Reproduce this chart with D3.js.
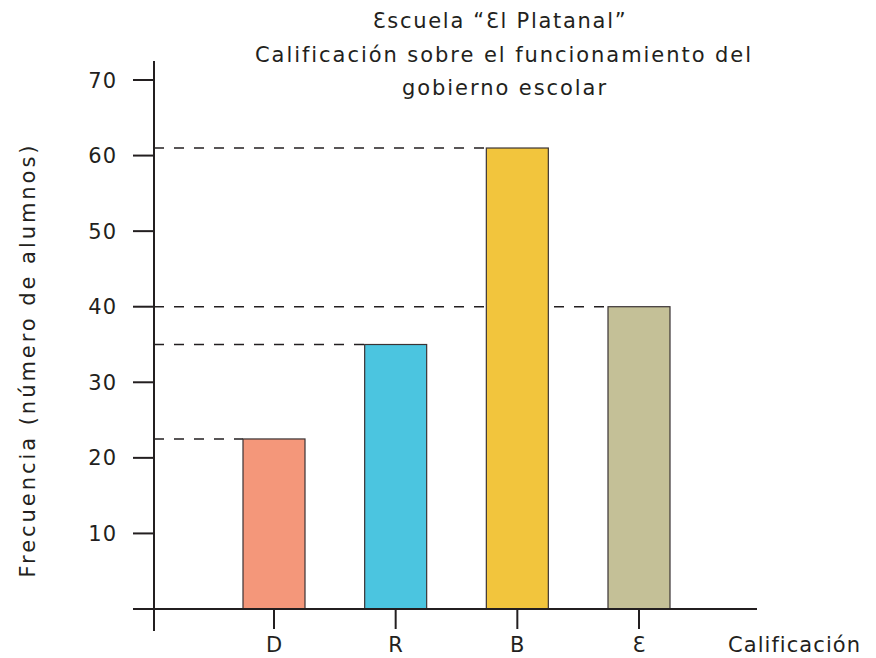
<!DOCTYPE html>
<html><head><meta charset="utf-8">
<script src="https://cdn.jsdelivr.net/npm/d3@7/dist/d3.min.js"></script>
<style>
body{margin:0;background:#fff;}
text{font-family:"DejaVu Sans","Open Sans",sans-serif;fill:#231f20;}
</style></head>
<body><svg id="c" width="876" height="658"></svg>
<script>
const categories = ["D","R","B","Ɛ"];
const values = [22.5, 35, 61, 40];
const colors = ["#F4977A","#4BC5E0","#F2C53D","#C4C097"];
const yTicks = [10,20,30,40,50,60,70];
const titleLines = ["Ɛscuela “Ɛl Platanal”","Calificación sobre el funcionamiento del","gobierno escolar"];
const yLabel = "Frecuencia (número de alumnos)";
const xLabel = "Calificación";

const svg = d3.select("#c");
const y = d3.scaleLinear().domain([0,70]).range([609,80]);
const x = d3.scalePoint().domain(categories).range([274,639]);
const barW = 62;
const axisX = 154;
const ink = "#231f20";

function fit(sel, w){
  sel.each(function(){
    const len = this.getComputedTextLength();
    const n = this.textContent.length;
    if(n>1) d3.select(this).attr("letter-spacing", (w-len)/(n-1));
  });
}

// dashed reference lines
svg.append("g").selectAll("line").data(values).join("line")
  .attr("x1", axisX).attr("x2", (d,i)=>x(categories[i]) - barW/2)
  .attr("y1", d=>y(d)).attr("y2", d=>y(d))
  .attr("stroke", ink).attr("stroke-width",1.6).attr("stroke-dasharray","10,10");

// bars
svg.append("g").selectAll("rect").data(values).join("rect")
  .attr("x",(d,i)=>x(categories[i]) - barW/2)
  .attr("width", barW)
  .attr("y", d=>y(d)).attr("height", d=>y(0)-y(d))
  .attr("fill",(d,i)=>colors[i]).attr("stroke","#3a3334").attr("stroke-width",1.2);

// y axis
const ya = svg.append("g");
ya.append("line").attr("x1",axisX).attr("x2",axisX).attr("y1",61).attr("y2",631)
  .attr("stroke",ink).attr("stroke-width",2);
ya.selectAll("line.t").data(yTicks).join("line").attr("class","t")
  .attr("x1",133).attr("x2",axisX).attr("y1",d=>y(d)).attr("y2",d=>y(d))
  .attr("stroke",ink).attr("stroke-width",2);
ya.selectAll("text").data(yTicks).join("text")
  .attr("x",117).attr("y",d=>y(d)).attr("dy","0.36em").attr("text-anchor","end")
  .attr("font-size",21).attr("letter-spacing",1).text(d=>d);

// x axis
const xa = svg.append("g");
xa.append("line").attr("x1",133).attr("x2",757).attr("y1",y(0)).attr("y2",y(0))
  .attr("stroke",ink).attr("stroke-width",2);
xa.selectAll("line.t").data(categories).join("line").attr("class","t")
  .attr("x1",d=>x(d)).attr("x2",d=>x(d)).attr("y1",y(0)).attr("y2",629)
  .attr("stroke",ink).attr("stroke-width",2);
xa.selectAll("text").data(categories).join("text")
  .attr("x",d=>x(d)).attr("y",652).attr("text-anchor","middle")
  .attr("font-size",21).text(d=>d);

svg.append("text").attr("x",728).attr("y",652).attr("font-size",21)
  .text(xLabel).call(fit,132);

svg.append("text").attr("transform","translate(35,360) rotate(-90)")
  .attr("text-anchor","middle").attr("font-size",21).text(yLabel).call(fit,432);

const tx = [500,504,505];
const ty = [28,62,95];
const tw = [253,496,204];
svg.append("g").selectAll("text").data(titleLines).join("text")
  .attr("x",(d,i)=>tx[i]).attr("y",(d,i)=>ty[i]).attr("text-anchor","middle")
  .attr("font-size",21).text(d=>d)
  .each(function(d,i){ d3.select(this).call(fit, tw[i]); });
</script></body></html>
